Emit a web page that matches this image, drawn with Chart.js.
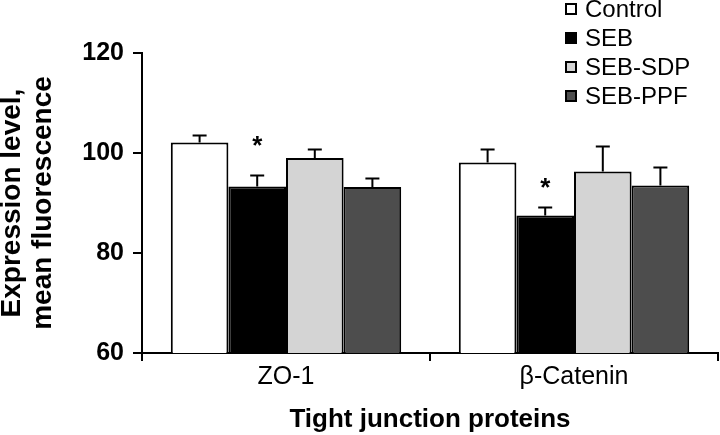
<!DOCTYPE html>
<html>
<head>
<meta charset="utf-8">
<script src="https://cdn.jsdelivr.net/npm/chart.js@4.4.1/dist/chart.umd.min.js"></script>
<style>
  html, body { margin: 0; padding: 0; background: #fff; }
  #wrap { width: 720px; height: 435px; position: relative; }
</style>
</head>
<body>
<div id="wrap"><canvas id="chart"></canvas></div>
<script>
// categories and groups
const proteins = ['ZO-1', 'β-Catenin'];
const groups = ['Control', 'SEB', 'SEB-SDP', 'SEB-PPF'];

// mean fluorescence per group (ZO-1, β-Catenin)
const controlVals = [102.1, 98.1];
const sebVals = [93.3, 87.5];
const sdpVals = [99.0, 96.3];
const ppfVals = [93.2, 93.5];

// upper error (SEM)
const controlErr = [1.4, 2.6];
const sebErr = [2.2, 1.6];
const sdpErr = [1.7, 5.0];
const ppfErr = [1.7, 3.6];

// significance asterisks: dataset index and level (data units) per category
const starGroup = 1;
const starLevel = [102.8, 94.4];

const yTicks = [60, 80, 100, 120];

const fills = ['#ffffff', '#000000', '#d4d4d4', '#4d4d4d'];
const FONT = '"Liberation Sans", Arial, sans-serif';

const errorBars = {
  id: 'errorBars',
  afterDatasetsDraw(chart) {
    const ctx = chart.ctx;
    const y = chart.scales.y;
    ctx.save();
    ctx.strokeStyle = '#000';
    ctx.lineWidth = 2;
    chart.data.datasets.forEach((ds, i) => {
      const meta = chart.getDatasetMeta(i);
      meta.data.forEach((bar, j) => {
        const top = y.getPixelForValue(ds.data[j] + ds.err[j]);
        ctx.beginPath();
        ctx.moveTo(bar.x, bar.y);
        ctx.lineTo(bar.x, top);
        ctx.moveTo(bar.x - 7, top);
        ctx.lineTo(bar.x + 7, top);
        ctx.stroke();
      });
    });
    // asterisks
    ctx.fillStyle = '#000';
    ctx.font = 'bold 26px ' + FONT;
    ctx.textAlign = 'center';
    ctx.textBaseline = 'alphabetic';
    const meta = chart.getDatasetMeta(starGroup);
    meta.data.forEach((bar, j) => {
      const cy = y.getPixelForValue(starLevel[j]);
      ctx.fillText('*', bar.x, cy + 15);
    });
    ctx.restore();
  }
};

const sideLegend = {
  id: 'sideLegend',
  afterDraw(chart) {
    const ctx = chart.ctx;
    ctx.save();
    ctx.font = '24px ' + FONT;
    ctx.textBaseline = 'middle';
    ctx.textAlign = 'left';
    chart.data.datasets.forEach((ds, i) => {
      const cy = 9 + i * 29;
      ctx.fillStyle = ds.backgroundColor;
      ctx.fillRect(566, cy - 5, 10, 10);
      ctx.strokeStyle = '#000';
      ctx.lineWidth = 2;
      ctx.strokeRect(566, cy - 5, 10, 10);
      ctx.fillStyle = '#000';
      ctx.fillText(ds.label, 585, cy + 1);
    });
    ctx.restore();
  }
};

const allVals = [controlVals, sebVals, sdpVals, ppfVals];
const allErr = [controlErr, sebErr, sdpErr, ppfErr];

new Chart(document.getElementById('chart'), {
  type: 'bar',
  data: {
    labels: proteins,
    datasets: groups.map((g, i) => ({
      label: g,
      data: allVals[i],
      err: allErr[i],
      backgroundColor: fills[i],
      borderColor: '#000',
      borderWidth: 2,
      borderSkipped: 'bottom'
    }))
  },
  options: {
    responsive: true,
    maintainAspectRatio: false,
    animation: false,
    categoryPercentage: 0.8,
    barPercentage: 1,
    layout: { padding: { top: 53, right: 2, left: 0, bottom: 0 } },
    plugins: {
      legend: { display: false },
      tooltip: { enabled: false }
    },
    scales: {
      x: {
        grid: {
          offset: true,
          drawOnChartArea: false,
          color: '#000',
          lineWidth: 2,
          tickLength: 8
        },
        border: { color: '#000', width: 2 },
        ticks: {
          color: '#000',
          padding: 1,
          font: { family: FONT, size: 25 }
        },
        title: {
          display: true,
          text: 'Tight junction proteins',
          color: '#000',
          padding: { top: 6, bottom: 0 },
          font: { family: FONT, size: 26, weight: 'bold' }
        },
        afterFit(scale) { scale.height = 82; }
      },
      y: {
        min: 60,
        max: 120,
        afterBuildTicks(scale) { scale.ticks = yTicks.map(v => ({ value: v })); },
        grid: {
          drawOnChartArea: false,
          color: '#000',
          lineWidth: 2,
          tickLength: 9
        },
        border: { color: '#000', width: 2 },
        ticks: {
          color: '#000',
          padding: 9,
          font: { family: FONT, size: 25, weight: 'bold' }
        },
        title: {
          display: true,
          text: ['Expression level,', 'mean fluorescence'],
          color: '#000',
          padding: { top: -3, bottom: 0 },
          font: { family: FONT, size: 28, weight: 'bold', lineHeight: 1.1 }
        },
        afterFit(scale) { scale.width = 142; }
      }
    }
  },
  plugins: [errorBars, sideLegend]
});
</script>
</body>
</html>
